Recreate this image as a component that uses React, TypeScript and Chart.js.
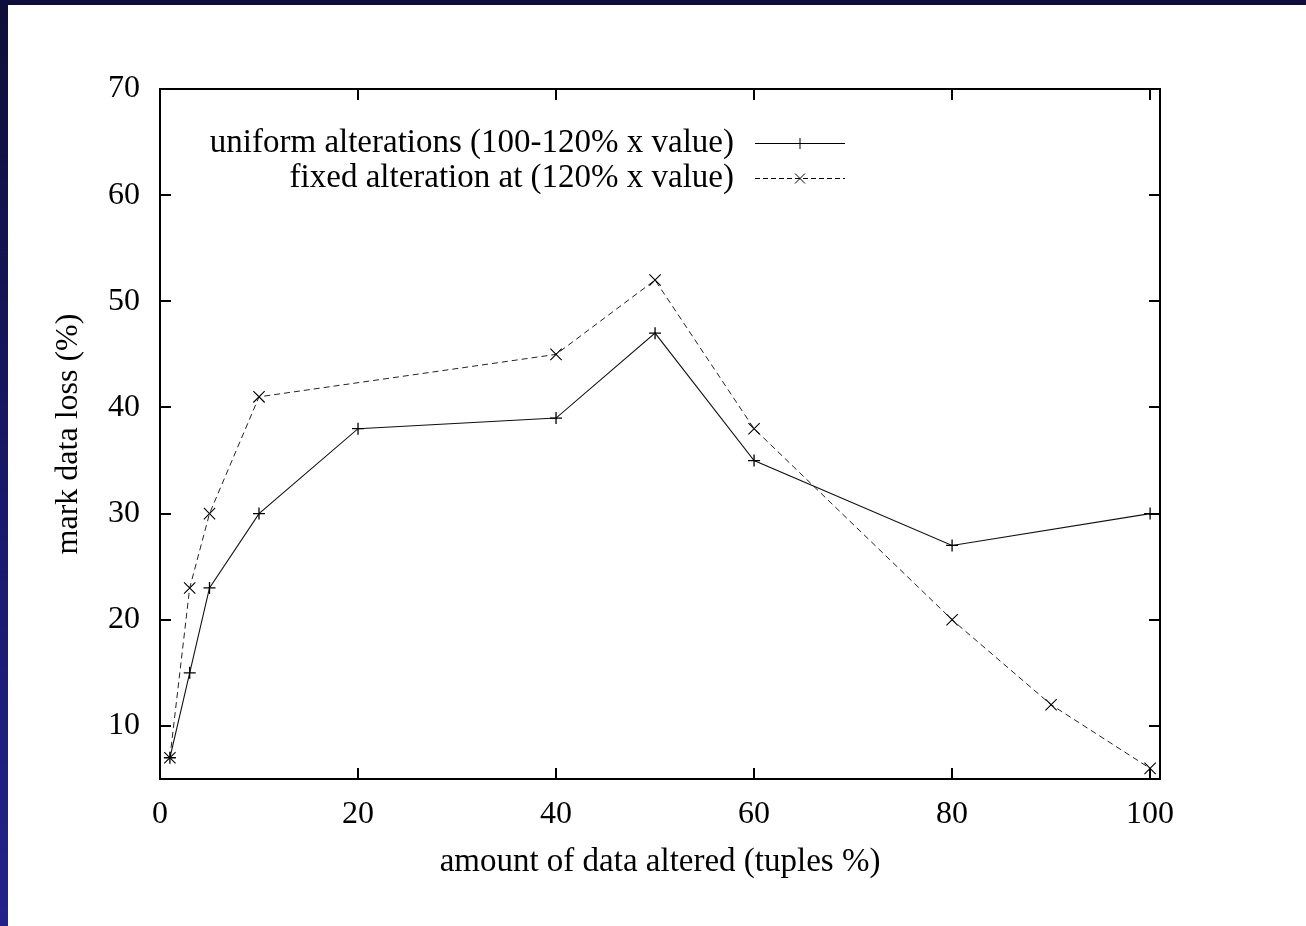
import React, { useEffect, useRef } from "react";
import { Chart, registerables } from "chart.js";

Chart.register(...registerables);

const xTicks = [0, 20, 40, 60, 80, 100];
const yTicks = [10, 20, 30, 40, 50, 60, 70];

const uniformX = [1, 3, 5, 10, 20, 40, 50, 60, 80, 100];
const uniformY = [7, 15, 23, 30, 38, 39, 47, 35, 27, 30];

const fixedX = [1, 3, 5, 10, 40, 50, 60, 80, 90, 100];
const fixedY = [7, 23, 30, 41, 45, 52, 38, 20, 12, 6];

const labelUniform = "uniform alterations (100-120% x value)";
const labelFixed = "fixed alteration at (120% x value)";

const FONT = "'Liberation Serif', 'Times New Roman', serif";
const FS = 32;
const FS_TEXT = 33;

const framePlugin = {
  id: "frameTicks",
  afterDatasetsDraw(chart: any) {
    const { ctx, chartArea } = chart;
    const { left, right, top, bottom } = chartArea;
    const xs = chart.scales.x;
    const ys = chart.scales.y;
    const tl = 11;
    ctx.save();
    ctx.strokeStyle = "#000";
    ctx.lineWidth = 2;
    ctx.beginPath();
    ctx.rect(left, top, right - left, bottom - top);
    ctx.stroke();
    ctx.beginPath();
    for (const v of xTicks) {
      const px = Math.round(xs.getPixelForValue(v));
      ctx.moveTo(px, bottom);
      ctx.lineTo(px, bottom - tl);
      ctx.moveTo(px, top);
      ctx.lineTo(px, top + tl);
    }
    for (const v of yTicks) {
      const py = Math.round(ys.getPixelForValue(v));
      ctx.moveTo(left, py);
      ctx.lineTo(left + tl, py);
      ctx.moveTo(right, py);
      ctx.lineTo(right - tl, py);
    }
    ctx.stroke();

    // legend
    const rows = [
      { text: labelUniform, dash: [] as number[], marker: "plus", y: top + 54 },
      { text: labelFixed, dash: [5, 3], marker: "x", y: top + 89 },
    ];
    ctx.font = `${FS_TEXT}px ${FONT}`;
    ctx.fillStyle = "#000";
    ctx.textAlign = "right";
    ctx.textBaseline = "middle";
    for (const r of rows) {
      ctx.fillText(r.text, left + 574, r.y);
      ctx.lineWidth = 1;
      ctx.setLineDash(r.dash);
      ctx.beginPath();
      ctx.moveTo(left + 595, r.y + 0.5);
      ctx.lineTo(left + 685, r.y + 0.5);
      ctx.stroke();
      ctx.setLineDash([]);
      const cx = left + 640;
      const cy = r.y + 0.5;
      ctx.beginPath();
      if (r.marker === "plus") {
        ctx.moveTo(cx - 5.5, cy);
        ctx.lineTo(cx + 5.5, cy);
        ctx.moveTo(cx, cy - 5.5);
        ctx.lineTo(cx, cy + 5.5);
      } else {
        ctx.moveTo(cx - 5, cy - 5);
        ctx.lineTo(cx + 5, cy + 5);
        ctx.moveTo(cx - 5, cy + 5);
        ctx.lineTo(cx + 5, cy - 5);
      }
      ctx.stroke();
    }
    ctx.restore();
  },
};

export default function App() {
  const ref = useRef<HTMLCanvasElement | null>(null);

  useEffect(() => {
    if (!ref.current) return;
    const chart = new Chart(ref.current, {
      type: "line",
      data: {
        datasets: [
          {
            label: labelUniform,
            data: uniformX.map((x, i) => ({ x, y: uniformY[i] })),
            borderColor: "#111",
            borderWidth: 1.1,
            pointStyle: "cross",
            pointRadius: 6,
            pointBorderColor: "#000",
            pointBorderWidth: 1.3,
            pointBackgroundColor: "#000",
            fill: false,
            tension: 0,
          },
          {
            label: labelFixed,
            data: fixedX.map((x, i) => ({ x, y: fixedY[i] })),
            borderColor: "#222",
            borderWidth: 1,
            borderDash: [6, 4],
            pointStyle: "crossRot",
            pointRadius: 8,
            pointBorderColor: "#000",
            pointBorderWidth: 1.1,
            pointBackgroundColor: "#000",
            fill: false,
            tension: 0,
          },
        ],
      },
      options: {
        animation: false,
        responsive: false,
        events: [],
        layout: { padding: { left: 0, top: 89, right: 146, bottom: 44 } },
        plugins: {
          legend: { display: false },
          tooltip: { enabled: false },
        },
        scales: {
          x: {
            type: "linear",
            min: 0,
            max: 101,
            grid: { display: false, drawTicks: false },
            border: { display: false },
            afterBuildTicks: (s: any) => {
              s.ticks = xTicks.map((v) => ({ value: v }));
            },
            afterFit: (s: any) => {
              s.height = 103;
            },
            ticks: {
              padding: 16,
              color: "#000",
              maxRotation: 0,
              autoSkip: false,
              font: { family: FONT, size: FS },
            },
            title: {
              display: true,
              text: "amount of data altered (tuples %)",
              color: "#000",
              padding: 0,
              font: { family: FONT, size: FS_TEXT },
            },
          },
          y: {
            type: "linear",
            min: 5,
            max: 70,
            grid: { display: false, drawTicks: false },
            border: { display: false },
            afterBuildTicks: (s: any) => {
              s.ticks = yTicks.map((v) => ({ value: v }));
            },
            afterFit: (s: any) => {
              s.width = 160;
            },
            ticks: {
              padding: 20,
              color: "#000",
              autoSkip: false,
              font: { family: FONT, size: FS },
            },
            title: {
              display: true,
              text: "mark data loss (%)",
              color: "#000",
              padding: { top: 49, bottom: 0 },
              font: { family: FONT, size: FS },
            },
          },
        },
      },
      plugins: [framePlugin],
    });
    return () => chart.destroy();
  }, []);

  return (
    <div
      style={{
        position: "fixed",
        left: 0,
        top: 0,
        width: 1306,
        height: 926,
        background: "linear-gradient(180deg, #0e0e3a 0%, #1a1a70 60%, #22228c 100%)",
        overflow: "hidden",
      }}
    >
      <div
        style={{
          position: "absolute",
          left: 8,
          top: 5,
          right: 0,
          bottom: 0,
          background: "#fff",
        }}
      />
      <canvas
        ref={ref}
        width={1306}
        height={926}
        style={{ position: "absolute", left: 0, top: 0, width: 1306, height: 926 }}
      />
    </div>
  );
}
